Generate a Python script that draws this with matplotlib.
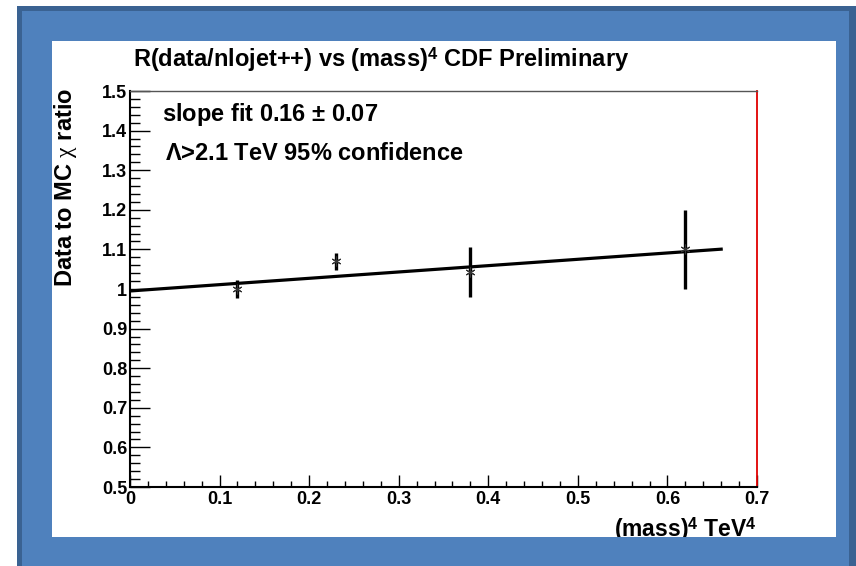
"""Data / NLOJET++ chi ratio vs (mass)^4 with a linear slope fit."""

import matplotlib
matplotlib.use("Agg")
import matplotlib.pyplot as plt
from matplotlib.patches import Rectangle
from matplotlib.ticker import MultipleLocator
import numpy as np

plt.rcParams["font.family"] = ["Liberation Sans", "DejaVu Sans"]
plt.rcParams["mathtext.fontset"] = "custom"
plt.rcParams["mathtext.rm"] = "Liberation Sans:bold"
plt.rcParams["mathtext.it"] = "Liberation Serif"
plt.rcParams["mathtext.bf"] = "Liberation Sans:bold"

# measured ratio points
mass4 = [0.12, 0.23, 0.38, 0.62]
ratio = [1.00, 1.07, 1.042, 1.10]
ratio_err = [0.022, 0.022, 0.063, 0.10]

# linear fit
fit_intercept = 0.995
fit_slope = 0.16
fit_range = [0.0, 0.66]

xticks = [0, 0.1, 0.2, 0.3, 0.4, 0.5, 0.6, 0.7]
xticklabels = ["0", "0.1", "0.2", "0.3", "0.4", "0.5", "0.6", "0.7"]
yticks = [0.5, 0.6, 0.7, 0.8, 0.9, 1.0, 1.1, 1.2, 1.3, 1.4, 1.5]
yticklabels = ["0.5", "0.6", "0.7", "0.8", "0.9", "1", "1.1", "1.2", "1.3", "1.4", "1.5"]

BLUE = "#4f81bd"
BLUE_DARK = "#3a6292"

W, H = 856, 566
fig = plt.figure(figsize=(W / 100, H / 100), dpi=100)
fig.patch.set_facecolor("white")


def px_rect(x0, y0, x1, y1, color, z):
    # rectangle given in pixel coordinates, origin top-left
    r = Rectangle((x0 / W, 1 - y1 / H), (x1 - x0) / W, (y1 - y0) / H,
                  transform=fig.transFigure, facecolor=color, edgecolor="none",
                  zorder=z)
    fig.add_artist(r)


ax = fig.add_axes([130 / W, 1 - 487 / H, 627 / W, 396 / H])

fx = np.array(fit_range)
ax.plot(fx, fit_intercept + fit_slope * fx, color="black", lw=2.3, zorder=3)
ax.errorbar(mass4, ratio, yerr=ratio_err, fmt="none", ecolor="black",
            elinewidth=2.4, capsize=0, zorder=4)
ax.plot(mass4, ratio, ls="none", marker=(6, 2, 0), ms=7, mew=0.8,
        color="#333333", zorder=5)

ax.set_xlim(0, 0.7)
ax.set_ylim(0.5, 1.5)
ax.set_xticks(xticks)
ax.set_xticklabels(xticklabels)
ax.set_yticks(yticks)
ax.set_yticklabels(yticklabels)
ax.xaxis.set_minor_locator(MultipleLocator(0.02))
ax.yaxis.set_minor_locator(MultipleLocator(0.02))
ax.tick_params(axis="x", which="major", direction="in", length=8.6, width=1.0,
               labelsize=13, pad=3)
ax.tick_params(axis="x", which="minor", direction="in", length=4.3, width=1.0)
ax.tick_params(axis="y", which="major", direction="in", length=14.4, width=1.0,
               labelsize=13, pad=2)
ax.tick_params(axis="y", which="minor", direction="in", length=7.2, width=1.0)
for lab in ax.get_xticklabels() + ax.get_yticklabels():
    lab.set_fontweight("bold")

for side in ("left", "bottom"):
    ax.spines[side].set_linewidth(1.5)
ax.spines["top"].set_linewidth(1.0)
ax.spines["top"].set_color("#555555")
ax.spines["right"].set_linewidth(1.3)
ax.spines["right"].set_color("#e00000")

ax.set_title(r"R(data/nlojet++) vs (mass)$^{4}$ CDF Preliminary",
             fontsize=17, fontweight="bold", pad=17, x=0.4)
ax.set_xlabel(r"(mass)$^{4}$ TeV$^{4}$", fontsize=16.5, fontweight="bold",
              loc="right")
ax.xaxis.set_label_coords(1.0, -0.072)
ax.xaxis.label.set_va("top")
ax.set_ylabel(r"Data to MC $\it{\chi}$ ratio", fontsize=17,
              fontweight="bold", loc="top")
ax.yaxis.set_label_coords(-0.082, 1.008)

ax.text(32 / 627, 1 - 10 / 396, r"slope fit 0.16 $\it{\pm}$ 0.07",
        transform=ax.transAxes, fontsize=17, fontweight="bold", va="top")
ax.text(35 / 627, 1 - 51 / 396, r"$\it{\Lambda}$>2.1 TeV 95% confidence",
        transform=ax.transAxes, fontsize=17, fontweight="bold", va="top")

# slide frame around the white panel
px_rect(17, 6, 856, 41, BLUE, 10)
px_rect(17, 537, 856, 566, BLUE, 10)
px_rect(17, 6, 52, 566, BLUE, 10)
px_rect(836, 6, 856, 566, BLUE, 10)
px_rect(17, 6, 22, 566, BLUE_DARK, 11)
px_rect(17, 6, 856, 11, BLUE_DARK, 11)
px_rect(849, 6, 856, 566, BLUE_DARK, 11)

fig.savefig("out.png", dpi=100)
